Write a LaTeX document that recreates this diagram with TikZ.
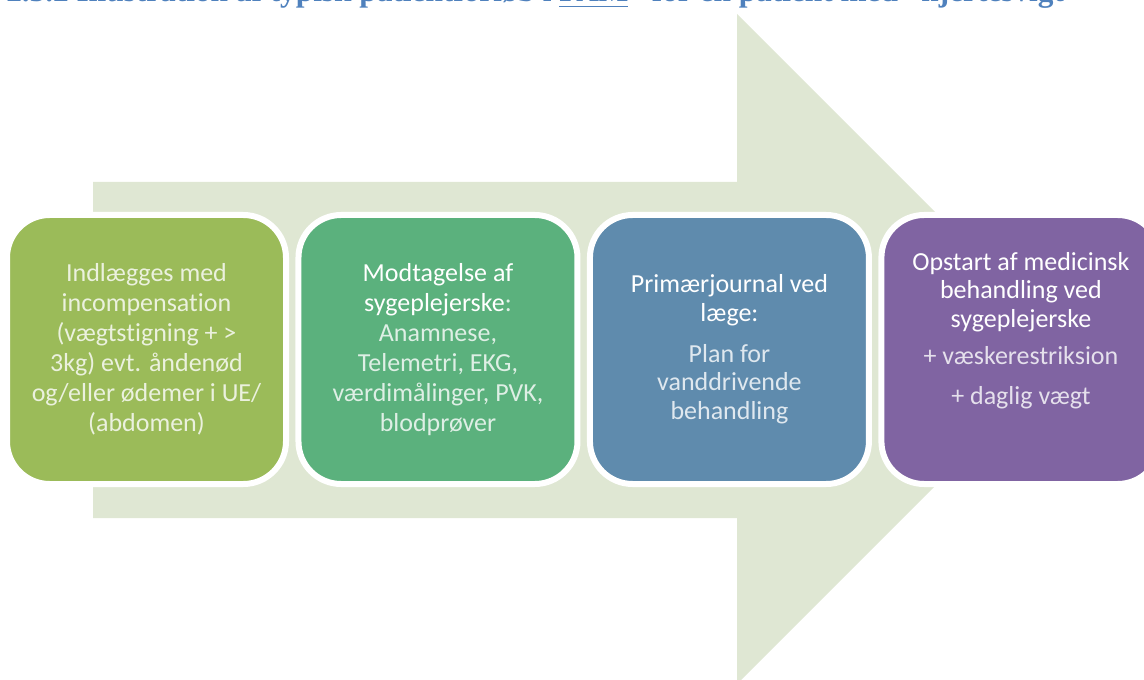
\documentclass[tikz,border=0pt]{standalone}
\usepackage{fontspec}
\setmainfont{Carlito}[Ligatures=NoCommon]
\newfontfamily\headfont{Liberation Serif}
\usetikzlibrary{positioning}

\definecolor{arrowbg}{RGB}{223,231,211}
\definecolor{headblue}{RGB}{79,129,189}
\definecolor{stageA}{RGB}{155,187,89}
\definecolor{stageB}{RGB}{91,177,125}
\definecolor{stageC}{RGB}{95,139,173}
\definecolor{stageD}{RGB}{128,100,162}

\newcommand{\hd}[1]{\textcolor{white}{#1}}

\tikzset{
  stage/.style={rectangle, rounded corners=32pt, draw=white, line width=4.5pt,
    minimum width=209.25pt, minimum height=201.75pt},
  stagetext/.style={text=white!80!#1, align=center, inner sep=0pt,
    font=\fontsize{19.5}{22.5}\selectfont},
}

\begin{document}
\begin{tikzpicture}[x=0.75pt, y=-0.75pt, node distance=218.6pt]
\clip (0,0) rectangle (1144,680);
% Arrow behind the stages
\fill[arrowbg] (93,182) -- (737,182) -- (737,14) -- (1072,349) -- (737,684)
  -- (737,518) -- (93,518) -- cycle;

% Heading, cut off at the top
\node (title) [anchor=base west, inner sep=0pt, text=headblue] at (6,2)
  {\resizebox{805pt}{!}{\headfont\bfseries 2.3.2 Illustration af typisk patientforløb i \underline{FAM}” for en patient med ”hjertesvigt”}};

% Stages
\node (b1) [stage, fill=stageA] at (146.5,349.5) {};
\node (b2) [stage, fill=stageB, right of=b1] {};
\node (b3) [stage, fill=stageC, right of=b2] {};
\node (b4) [stage, fill=stageD, right of=b3] {};

% Stage texts
\node (t1) [stagetext=stageA] at (b1) {Indlægges med\\ incompensation\\ (vægtstigning + >\\ 3kg) evt. åndenød\\ og/eller ødemer i UE/\\ (abdomen)};
\node (t2) [stagetext=stageB] at (b2) {\hd{Modtagelse af}\\ \hd{sygeplejerske}:\\ Anamnese,\\ Telemetri, EKG,\\ værdimålinger, PVK,\\ blodprøver};
\node (t3) [stagetext=stageC, font=\fontsize{19.5}{21.5}\selectfont] at (b3) {\hd{Primærjournal ved}\\ \hd{læge:}\\[9pt] Plan for\\ vanddrivende\\ behandling};
\node (t4) [stagetext=stageD, font=\fontsize{19.5}{21.5}\selectfont, yshift=14pt] at (b4) {\hd{Opstart af medicinsk}\\ \hd{behandling ved}\\ \hd{sygeplejerske}\\[6pt] + væskerestriksion\\[9pt] + daglig vægt};
\end{tikzpicture}
\end{document}
